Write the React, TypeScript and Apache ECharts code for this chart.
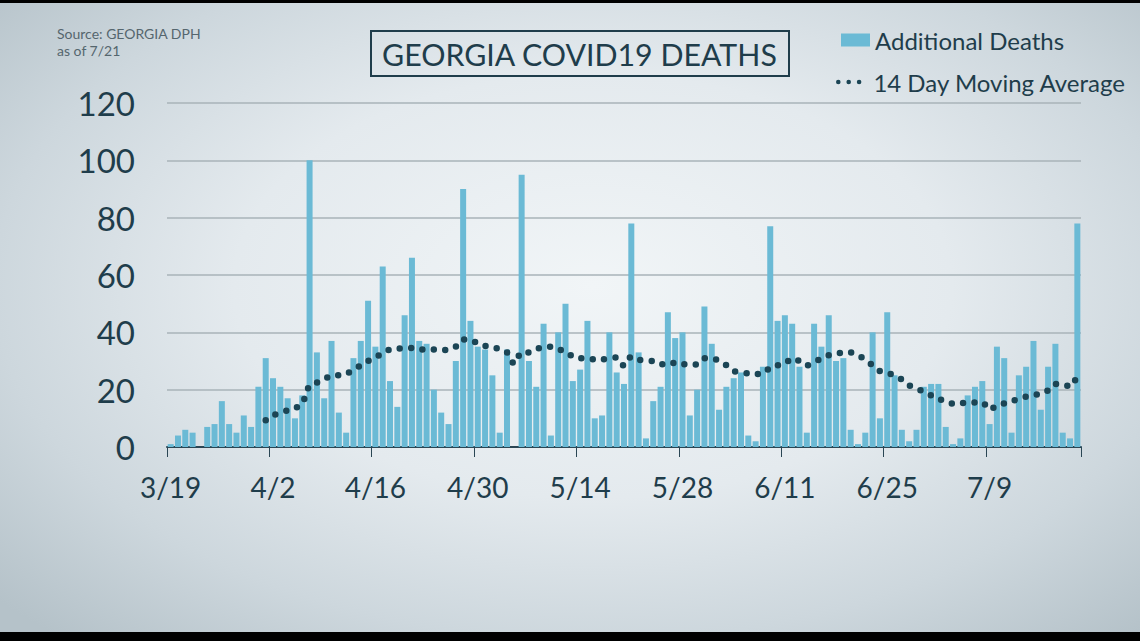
import React, { useEffect, useRef } from "react";
import * as echarts from "echarts";

const startMonth = 3;
const startDay = 19;
const dayCount = 125;
const monthLengths: Record<number, number> = { 3: 31, 4: 30, 5: 31, 6: 30, 7: 31 };

const dates: string[] = (() => {
  const out: string[] = [];
  let m = startMonth;
  let d = startDay;
  for (let i = 0; i < dayCount; i++) {
    out.push(`${m}/${d}`);
    d++;
    if (d > monthLengths[m]) {
      d = 1;
      m++;
    }
  }
  return out;
})();

const additionalDeaths: number[] = [
  1, 4, 6, 5, 0, 7, 8, 16, 8, 5, 11, 7, 21, 31, 24, 21, 17, 10, 18, 100,
  33, 17, 37, 12, 5, 31, 37, 51, 35, 63, 23, 14, 46, 66, 37, 36, 20, 12, 8, 30,
  90, 44, 35, 34, 25, 5, 34, 0, 95, 30, 21, 43, 4, 40, 50, 23, 27, 44, 10, 11,
  40, 26, 22, 78, 33, 3, 16, 21, 47, 38, 40, 11, 20, 49, 36, 13, 21, 24, 26, 4,
  2, 28, 77, 44, 46, 43, 28, 5, 43, 35, 46, 30, 31, 6, 1, 5, 40, 10, 47, 25,
  6, 2, 6, 21, 22, 22, 7, 1, 3, 18, 21, 23, 8, 35, 31, 5, 25, 28, 37, 13,
  28, 36, 5, 3, 78,
];

const movingAverage: (number | null)[] = [
  null, null, null, null, null, null, null, null, null, null, null, null, null,
  9.3, 11, 12, 12.8, 13.5, 15.2, 21.5, 22.5, 23.5, 25, 25, 25.5, 27, 28.5, 30, 31, 33,
  34, 34.3, 34.5, 34.5, 34, 34, 34, 33.8, 34, 35, 37.5, 37.5, 36, 35.3, 35, 34, 33, 29,
  33, 33, 34, 35, 35, 34, 33.5, 31.5, 31, 31, 30.5, 30.5, 31, 31.2, 28.3, 31.5, 30.5, 30,
  30, 29, 28.5, 29.5, 29, 28.5, 29, 31, 31, 30, 28.5, 26.5, 26, 25.7, 25.5, 25.6, 27.8, 28.5,
  29, 31, 30, 28.5, 29.5, 31, 32, 32.5, 33, 33, 32, 30.5, 28.5, 26.5, 25.8, 25, 23.5, 21.5,
  20.3, 19.3, 18, 17, 15.5, 15.2, 15.2, 15.6, 15.5, 15.6, 13, 14.5, 15.2, 16, 16.8, 17.6, 18.2, 18.5,
  19.8, 22, 22, 21, 25,
];

const yTicks = { min: 0, max: 120, interval: 20 };

const FONT = "Lato, 'Open Sans', sans-serif";
const DARK = "#1f3d4b";
const BAR = "#6bbad5";
const DOT = "#1b4555";

const dotsIcon =
  "path://M0,2.3a2.3,2.3 0 1,0 4.6,0a2.3,2.3 0 1,0 -4.6,0Z" +
  "M10.4,2.3a2.3,2.3 0 1,0 4.6,0a2.3,2.3 0 1,0 -4.6,0Z" +
  "M20.8,2.3a2.3,2.3 0 1,0 4.6,0a2.3,2.3 0 1,0 -4.6,0Z";

export default function App() {
  const ref = useRef<HTMLDivElement>(null);

  useEffect(() => {
    if (!ref.current) return;
    const chart = echarts.init(ref.current, undefined, { renderer: "svg" });
    chart.setOption({
      animation: false,
      backgroundColor: "transparent",
      title: {
        text: "GEORGIA COVID19 DEATHS",
        left: 371,
        top: 31,
        padding: [6, 11, 6, 11],
        borderColor: DARK,
        borderWidth: 2,
        textStyle: {
          fontFamily: FONT,
          fontSize: 30.3,
          fontWeight: "normal",
          color: DARK,
          lineHeight: 33,
        },
      },
      graphic: [
        {
          type: "text",
          left: 57,
          top: 25,
          style: {
            text: "Source: GEORGIA DPH\nas of 7/21",
            fontFamily: FONT,
            fontSize: 14,
            lineHeight: 17,
            fill: "#55666e",
          },
        },
      ],
      legend: [
        {
          data: [{ name: "Additional Deaths", icon: "rect" }],
          left: 841,
          top: 28,
          padding: 0,
          itemWidth: 29,
          itemHeight: 13,
          selectedMode: false,
          textStyle: { fontFamily: FONT, fontSize: 24, color: DARK, fontWeight: "normal" },
        },
        {
          data: [{ name: "14 Day Moving Average", icon: dotsIcon }],
          left: 836,
          top: 70,
          padding: 0,
          itemWidth: 25.4,
          itemHeight: 4.6,
          selectedMode: false,
          itemStyle: { borderWidth: 0 },
          textStyle: {
            fontFamily: FONT,
            fontSize: 24,
            color: DARK,
            fontWeight: "normal",
            padding: [0, 0, 0, 7],
          },
        },
      ],
      grid: { left: 167, right: 59, top: 103, bottom: 194 },
      xAxis: {
        type: "category",
        data: dates,
        boundaryGap: true,
        axisLine: { lineStyle: { color: "#2a4654", width: 2 } },
        axisTick: { show: true, interval: 13, length: 10, lineStyle: { color: "#2a4654", width: 1 } },
        axisLabel: { interval: 13, fontFamily: FONT, fontSize: 28, color: DARK, margin: 26 },
        splitLine: { show: false },
      },
      yAxis: {
        type: "value",
        min: yTicks.min,
        max: yTicks.max,
        interval: yTicks.interval,
        axisLine: { show: false },
        axisTick: { show: false },
        axisLabel: { fontFamily: FONT, fontSize: 33, color: DARK, margin: 32 },
        splitLine: { lineStyle: { color: "#a9b3b8", width: 1.5 } },
      },
      series: [
        {
          name: "Additional Deaths",
          type: "bar",
          data: additionalDeaths,
          barCategoryGap: "18%",
          itemStyle: { color: BAR },
        },
        {
          name: "14 Day Moving Average",
          type: "line",
          data: movingAverage,
          smooth: 0.3,
          showSymbol: false,
          symbol: "none",
          itemStyle: { color: DOT },
          lineStyle: { color: DOT, width: 6.5, type: [0, 11.4], cap: "round" },
          z: 3,
        },
      ],
    });
    return () => chart.dispose();
  }, []);

  return (
    <div
      style={{
        position: "fixed",
        left: 0,
        top: 0,
        width: 1140,
        height: 641,
        background: "#000",
        overflow: "hidden",
      }}
    >
      <div
        style={{
          position: "absolute",
          left: 0,
          top: 3,
          width: 1140,
          height: 629,
          background:
            "radial-gradient(ellipse 70% 75% at 52% 45%, #f1f5f7 0%, #e4eaee 45%, #cdd7dd 75%, #b5c2c9 100%)",
        }}
      />
      <div ref={ref} style={{ position: "absolute", left: 0, top: 0, width: 1140, height: 641 }} />
    </div>
  );
}
